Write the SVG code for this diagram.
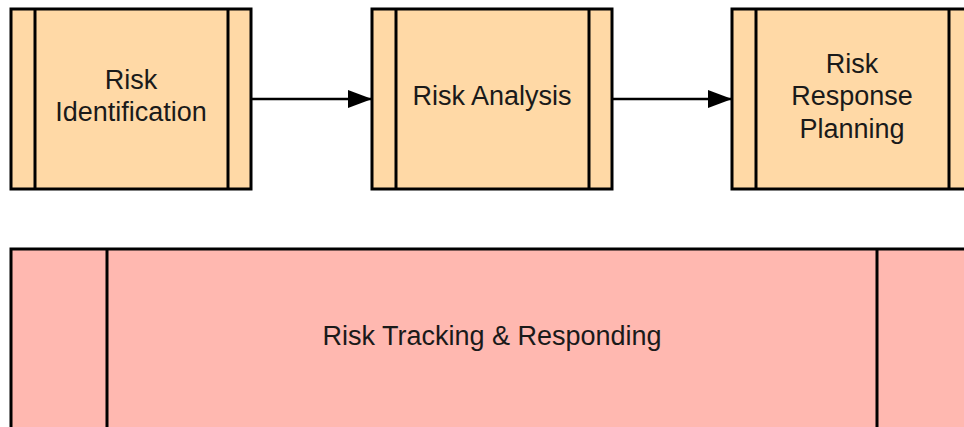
<svg xmlns="http://www.w3.org/2000/svg" width="964" height="427" viewBox="0 0 964 427">
  <style>
    .proc { fill: #FFD9A6; stroke: #000; stroke-width: 3; }
    .track { fill: #FFB8B0; stroke: #000; stroke-width: 3; }
    .bar { stroke: #000; stroke-width: 3; fill: none; }
    .label { font-family: "Liberation Sans", Arial, sans-serif; font-size: 27px; fill: #1a1a1a; text-anchor: middle; }
    .edge { stroke: #000; stroke-width: 2.5; fill: none; }
  </style>
  <defs>
    <marker id="arrow" markerUnits="userSpaceOnUse" markerWidth="26" markerHeight="20" refX="24" refY="9" orient="auto">
      <path d="M0,0 L24,9 L0,18 Z" fill="#000"/>
    </marker>
  </defs>
  <rect width="964" height="427" fill="#fff"/>

  <g id="risk-identification">
    <rect class="proc" x="11" y="9" width="240" height="180"/>
    <line class="bar" x1="35" y1="9" x2="35" y2="189"/>
    <line class="bar" x1="228" y1="9" x2="228" y2="189"/>
    <text class="label" x="131" y="89">Risk</text>
    <text class="label" x="131" y="121">Identification</text>
  </g>

  <g id="risk-analysis">
    <rect class="proc" x="372" y="9" width="240" height="180"/>
    <line class="bar" x1="396" y1="9" x2="396" y2="189"/>
    <line class="bar" x1="589" y1="9" x2="589" y2="189"/>
    <text class="label" x="492" y="105">Risk Analysis</text>
  </g>

  <g id="risk-response-planning">
    <rect class="proc" x="732" y="9" width="240" height="180"/>
    <line class="bar" x1="756" y1="9" x2="756" y2="189"/>
    <line class="bar" x1="949" y1="9" x2="949" y2="189"/>
    <text class="label" x="852" y="72.5">Risk</text>
    <text class="label" x="852" y="105">Response</text>
    <text class="label" x="852" y="137.5">Planning</text>
  </g>

  <g id="risk-tracking">
    <rect class="track" x="11" y="249" width="962" height="200"/>
    <line class="bar" x1="107" y1="249" x2="107" y2="449"/>
    <line class="bar" x1="877" y1="249" x2="877" y2="449"/>
    <text class="label" x="492" y="345">Risk Tracking &amp; Responding</text>
  </g>

  <g id="connectors">
    <line class="edge" x1="251" y1="99" x2="372" y2="99" marker-end="url(#arrow)"/>
    <line class="edge" x1="612" y1="99" x2="732" y2="99" marker-end="url(#arrow)"/>
  </g>
</svg>
